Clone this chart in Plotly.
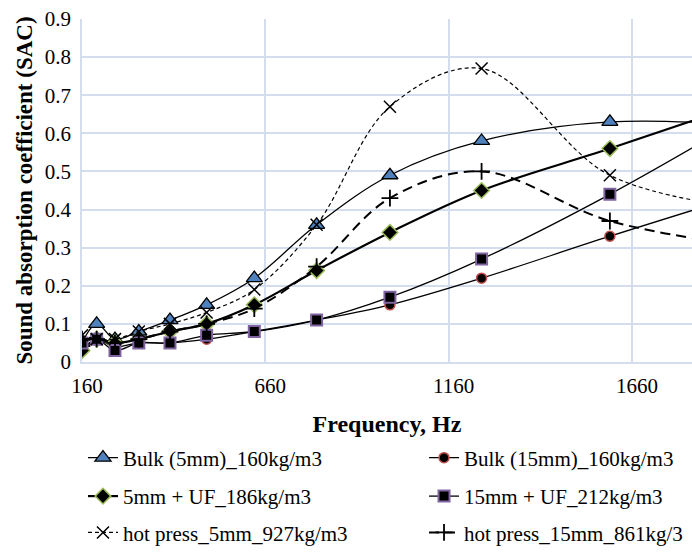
import plotly.graph_objects as go

freq = [160, 200, 250, 315, 400, 500, 630, 800, 1000, 1250, 1600, 2000]
bulk5 = [0.05, 0.10, 0.06, 0.08, 0.11, 0.15, 0.22, 0.36, 0.49, 0.58, 0.63, 0.62]
bulk15 = [0.05, 0.06, 0.04, 0.05, 0.05, 0.06, 0.08, 0.11, 0.15, 0.22, 0.33, 0.45]
uf5 = [0.03, 0.06, 0.05, 0.06, 0.08, 0.10, 0.15, 0.24, 0.34, 0.45, 0.56, 0.69]
uf15 = [0.05, 0.06, 0.03, 0.05, 0.05, 0.07, 0.08, 0.11, 0.17, 0.27, 0.44, 0.66]
hp5 = [0.07, 0.06, 0.06, 0.08, 0.10, 0.13, 0.19, 0.36, 0.67, 0.77, 0.49, 0.40]
hp15 = [0.06, 0.06, 0.05, 0.06, 0.08, 0.10, 0.14, 0.25, 0.43, 0.50, 0.37, 0.30]

names = ["Bulk (5mm)_160kg/m3", "Bulk (15mm)_160kg/m3",
         "5mm + UF_186kg/m3", "15mm + UF_212kg/m3",
         "hot press_5mm_927kg/m3", "hot press_15mm_861kg/3"]
x_ticks = [160, 660, 1160, 1660]

FONT = "Liberation Serif"
GRID = "#d3ddee"

fig = go.Figure()

def add(y, name, width, dash, marker, legend):
    fig.add_trace(go.Scatter(
        x=freq, y=y, name=name, mode="lines+markers",
        line=dict(color="black", width=width, dash=dash, shape="spline", smoothing=1.0),
        marker=marker, legend=legend))

add(bulk5, names[0], 1.3, "solid",
    dict(symbol="triangle-up", size=14, color="#4f81bd", line=dict(color="black", width=1.3)), "legend")
add(bulk15, names[1], 1.3, "solid",
    dict(symbol="circle", size=10, color="black", line=dict(color="#c0504d", width=1.5)), "legend2")
add(uf5, names[2], 2.2, "solid",
    dict(symbol="diamond", size=12, color="black", line=dict(color="#9bbb59", width=1.5)), "legend3")
add(uf15, names[3], 1.3, "solid",
    dict(symbol="square", size=11, color="black", line=dict(color="#8064a2", width=2)), "legend4")
add(hp5, names[4], 1.2, "4px,3px",
    dict(symbol="x-thin", size=12, color="black", line=dict(color="black", width=1.5)), "legend5")
add(hp15, names[5], 2.0, "10px,6px",
    dict(symbol="cross-thin", size=12, color="black", line=dict(color="black", width=1.8)), "legend6")

def leg(xpos, ypos):
    return dict(orientation="h", x=xpos, y=ypos, xanchor="left", yanchor="middle",
                bgcolor="rgba(0,0,0,0)",
                font=dict(family=FONT, size=21, color="black"), traceorder="normal")

c1, c2 = 0.0016, 0.5607
r1, r2, r3 = -0.28, -0.392, -0.498

fig.update_layout(
    width=692, height=554,
    margin=dict(l=82, r=0, t=19, b=186),
    paper_bgcolor="white", plot_bgcolor="white",
    font=dict(family=FONT, color="black"),
    showlegend=True,
    legend=leg(c1, r1), legend2=leg(c2, r1),
    legend3=leg(c1, r2), legend4=leg(c2, r2),
    legend5=leg(c1, r3), legend6=leg(c2, r3),
    xaxis=dict(range=[160, 1824], tickvals=x_ticks, ticktext=[str(v) for v in x_ticks],
               showgrid=True, gridcolor=GRID, gridwidth=1.5,
               showline=True, linecolor=GRID, linewidth=1.5, zeroline=False,
               tickfont=dict(family=FONT, size=21, color="black"), ticks="",
               ticklabelshift=5, ticklabelstandoff=4,
               title=dict(text="Frequency, Hz", font=dict(family=FONT, size=24, weight="bold", color="black"),
                          standoff=18),
               automargin=False),
    yaxis=dict(range=[0, 0.9], dtick=0.1, tick0=0,
               showgrid=True, gridcolor=GRID, gridwidth=1.5,
               showline=True, linecolor=GRID, linewidth=1.5, zeroline=False,
               tickfont=dict(family=FONT, size=21, color="black"), ticks="",
               ticklabelstandoff=5,
               title=dict(text="Sound absorption coefficient (SAC)",
                          font=dict(family=FONT, size=23, weight="bold", color="black"), standoff=6),
               automargin=False),
)

fig.write_html("out.html")
